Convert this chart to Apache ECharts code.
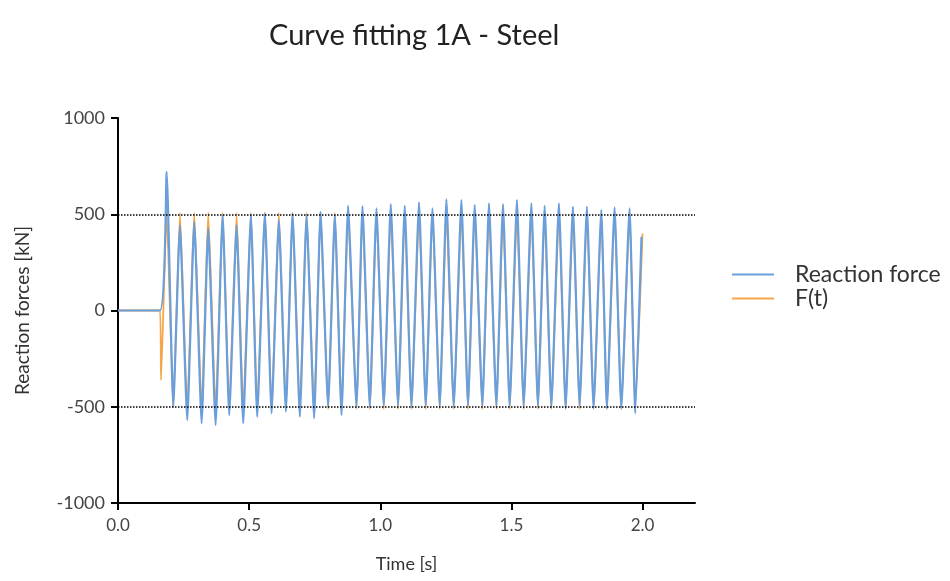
<!DOCTYPE html>
<html>
<head>
<meta charset="utf-8">
<script src="https://cdn.jsdelivr.net/npm/echarts@6/dist/echarts.min.js"></script>
<style>
  html, body { margin: 0; padding: 0; background: #fff; }
  #chart { width: 950px; height: 581px; }
</style>
</head>
<body>
<div id="chart"></div>
<script>
// start of the test: flat, then the first jump
const rampTimeRF = [0, 0.16, 0.1855];
const rampRF = [0, 0, 720];
const rampTimeFt = [0, 0.16, 0.164, 0.1855];
const rampFt = [0, 0, -362, 515];

// peaks and troughs of the oscillation [s]
const cycleTime = [
  0.2107, 0.2362, 0.2640, 0.2907, 0.3189, 0.3440, 0.3722, 0.3989, 0.4240, 0.4522,
  0.4773, 0.5067, 0.5307, 0.5600, 0.5855, 0.6133, 0.6400, 0.6655, 0.6933, 0.7189,
  0.7478, 0.7722, 0.8011, 0.8267, 0.8522, 0.8773, 0.9093, 0.9322, 0.9600, 0.9855,
  1.0133, 1.0400, 1.0678, 1.0933, 1.1189, 1.1478, 1.1733, 1.1989, 1.2267, 1.2522,
  1.2800, 1.3093, 1.3345, 1.3600, 1.3893, 1.4145, 1.4427, 1.4678, 1.4933, 1.5211,
  1.5467, 1.5760, 1.6011, 1.6267, 1.6522, 1.6811, 1.7067, 1.7345, 1.7600, 1.7878,
  1.8133, 1.8427, 1.8640, 1.8933, 1.9189, 1.9505, 1.9722
];
const cycleRF = [
  -500, 444, -569, 461, -586, 427, -595, 496, -543, 444,
  -586, 496, -552, 505, -534, 470, -525, 505, -552, 495,
  -560, 513, -500, 496, -543, 543, -500, 542, -500, 531,
  -495, 553, -495, 543, -500, 562, -495, 531, -497, 578,
  -500, 574, -495, 548, -495, 557, -495, 553, -498, 574,
  -495, 557, -495, 543, -500, 557, -508, 539, -497, 539,
  -508, 522, -510, 536, -510, 531, -534
];
const cycleFt = [
  -505, 508, -510, 508, -510, 510, -510, 510, -510, 508,
  -510, 508, -510, 510, -510, 508, -510, 508, -510, 508,
  -510, 508, -512, 508, -512, 508, -512, 508, -512, 508,
  -512, 508, -512, 508, -512, 508, -512, 508, -512, 508,
  -512, 508, -512, 508, -512, 508, -512, 508, -512, 508,
  -512, 508, -512, 508, -512, 508, -512, 508, -512, 508,
  -512, 508, -510, 508, -510, 508, -510
];
const endTimeRF = 1.996, endRF = 383;
const endTimeFt = 2.0, endFt = 400;

const xTicks = [0, 0.5, 1.0, 1.5, 2.0];
const refLevels = [500, -500];

const rfData = rampTimeRF.map((t, i) => [t, rampRF[i]])
  .concat(cycleTime.map((t, i) => [t, cycleRF[i]]))
  .concat([[endTimeRF, endRF]]);
const ftData = rampTimeFt.map((t, i) => [t, rampFt[i]])
  .concat(cycleTime.map((t, i) => [t, cycleFt[i]]))
  .concat([[endTimeFt, endFt]]);

const font = 'Lato, "Open Sans", sans-serif';
const chart = echarts.init(document.getElementById('chart'));

chart.setOption({
  animation: false,
  textStyle: { fontFamily: font },
  title: {
    text: 'Curve fitting 1A - Steel',
    left: 264,
    top: 16,
    textStyle: { fontFamily: font, fontSize: 29, fontWeight: 'normal', color: '#222' }
  },
  legend: {
    data: ['Reaction force', 'F(t)'],
    orient: 'vertical',
    left: 727,
    top: 258,
    icon: 'rect',
    itemWidth: 42,
    itemHeight: 2,
    itemGap: 1,
    textStyle: { fontFamily: font, fontSize: 23, color: '#333', padding: [0, 0, 0, 16] }
  },
  grid: { left: 118, right: 255, top: 118, bottom: 78 },
  xAxis: {
    type: 'value',
    min: 0,
    max: 2.2,
    name: 'Time [s]',
    nameLocation: 'middle',
    nameGap: 52,
    nameTextStyle: { fontFamily: font, fontSize: 18, color: '#333' },
    axisLine: { onZero: false, lineStyle: { color: '#000', width: 2 } },
    axisTick: { customValues: xTicks, length: 7, lineStyle: { color: '#000', width: 2 } },
    axisLabel: {
      customValues: xTicks,
      fontFamily: font, fontSize: 17, color: '#444', margin: 14,
      formatter: v => v.toFixed(1)
    },
    splitLine: { show: false }
  },
  yAxis: {
    type: 'value',
    min: -1000,
    max: 1000,
    interval: 500,
    name: 'Reaction forces [kN]',
    nameLocation: 'middle',
    nameGap: 86,
    nameTextStyle: { fontFamily: font, fontSize: 19, color: '#333' },
    axisLine: { show: true, lineStyle: { color: '#000', width: 2 } },
    axisTick: { show: true, length: 7, lineStyle: { color: '#000', width: 2 } },
    axisLabel: {
      fontFamily: font, fontSize: 18, color: '#444', margin: 13,
      formatter: v => String(v)
    },
    splitLine: { show: false }
  },
  series: [
    {
      name: 'F(t)',
      type: 'line',
      data: ftData,
      showSymbol: false,
      smooth: 0.15,
      color: '#f5a64a',
      lineStyle: { width: 1.8, color: '#f5a64a' }
    },
    {
      name: 'Reaction force',
      type: 'line',
      data: rfData,
      showSymbol: false,
      smooth: 0.15,
      color: '#6a9fdc',
      lineStyle: { width: 2.2, color: '#6a9fdc' },
      markLine: {
        silent: true,
        symbol: 'none',
        label: { show: false },
        lineStyle: { type: 'dotted', color: '#000', width: 1.5 },
        data: refLevels.map(v => ({ yAxis: v }))
      }
    }
  ]
});
</script>
</body>
</html>
